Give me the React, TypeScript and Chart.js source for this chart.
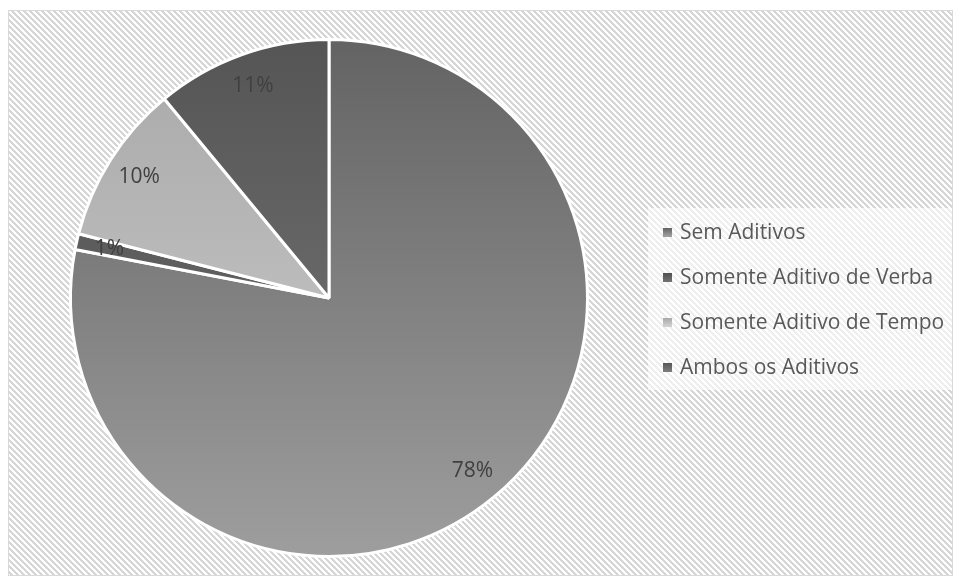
import React, { useEffect, useRef } from "react";
import { Chart, registerables } from "chart.js";

Chart.register(...registerables);

const categories = [
  "Sem Aditivos",
  "Somente Aditivo de Verba",
  "Somente Aditivo de Tempo",
  "Ambos os Aditivos",
];
const values = [78, 1, 10, 11];
const percentLabels = ["78%", "1%", "10%", "11%"];

const sliceTop = ["#636363", "#505050", "#a8a8a8", "#555555"];
const sliceBottom = ["#9e9e9e", "#707070", "#d0d0d0", "#7a7a7a"];

const W = 945;
const H = 568;

function makePattern(ctx: CanvasRenderingContext2D) {
  const p = document.createElement("canvas");
  const n = 6;
  p.width = n;
  p.height = n;
  const pc = p.getContext("2d")!;
  pc.fillStyle = "#ffffff";
  pc.fillRect(0, 0, n, n);
  pc.fillStyle = "#d6d6d6";
  for (let y = 0; y < n; y++) {
    for (let x = 0; x < n; x++) {
      if (((x - y) % n + n) % n < 3) pc.fillRect(x, y, 1, 1);
    }
  }
  return ctx.createPattern(p, "repeat")!;
}

const decorPlugin = {
  id: "decor",
  beforeDraw(chart: any) {
    const ctx: CanvasRenderingContext2D = chart.ctx;
    ctx.save();
    ctx.fillStyle = makePattern(ctx);
    ctx.fillRect(1, 3, W - 2, H - 4);
    ctx.fillStyle = "rgba(255,255,255,0.6)";
    ctx.fillRect(640, 200, 305, 182);
    ctx.strokeStyle = "#d9d9d9";
    ctx.lineWidth = 1;
    ctx.strokeRect(0.5, 2.5, W - 1, H - 3);
    ctx.restore();
  },
  afterDatasetsDraw(chart: any) {
    const ctx: CanvasRenderingContext2D = chart.ctx;
    const meta = chart.getDatasetMeta(0);
    ctx.save();
    ctx.font = "21px 'Open Sans'";
    ctx.fillStyle = "#404040";
    ctx.textAlign = "center";
    ctx.textBaseline = "middle";
    meta.data.forEach((arc: any, i: number) => {
      const mid = (arc.startAngle + arc.endAngle) / 2;
      const r = arc.outerRadius * 0.87;
      const x = arc.x + Math.cos(mid) * r;
      const y = arc.y + Math.sin(mid) * r;
      ctx.fillText(percentLabels[i], x, y);
    });
    ctx.restore();
  },
  afterDraw(chart: any) {
    const ctx: CanvasRenderingContext2D = chart.ctx;
    const labels: string[] = chart.data.labels;
    ctx.save();
    ctx.font = "21px 'Open Sans'";
    ctx.textBaseline = "middle";
    labels.forEach((lab, i) => {
      const y = 224 + i * 45;
      const g = ctx.createLinearGradient(0, y - 4, 0, y + 4);
      g.addColorStop(0, sliceTop[i]);
      g.addColorStop(1, sliceBottom[i]);
      ctx.fillStyle = g;
      ctx.fillRect(655, y - 4, 9, 9);
      ctx.fillStyle = "#595959";
      ctx.fillText(lab, 672, y + 1);
    });
    ctx.restore();
  },
};

export default function App() {
  const ref = useRef<HTMLCanvasElement>(null);
  useEffect(() => {
    if (!ref.current) return;
    const chart = new Chart(ref.current, {
      type: "pie",
      data: {
        labels: categories,
        datasets: [
          {
            data: values,
            backgroundColor: (c: any) => {
              const area = c.chart.chartArea;
              if (!area) return sliceTop[c.dataIndex];
              const g = c.chart.ctx.createLinearGradient(0, area.top, 0, area.bottom);
              g.addColorStop(0, sliceTop[c.dataIndex]);
              g.addColorStop(1, sliceBottom[c.dataIndex]);
              return g;
            },
            borderColor: "#ffffff",
            borderWidth: 3,
            hoverOffset: 0,
            offset: 0,
          },
        ],
      },
      options: {
        responsive: false,
        animation: false,
        events: [],
        layout: { padding: { left: 61, right: 364, top: 30, bottom: 18 } },
        plugins: {
          legend: { display: false },
          tooltip: { enabled: false },
        },
      },
      plugins: [decorPlugin],
    });
    return () => chart.destroy();
  }, []);
  return <canvas ref={ref} width={W} height={H} style={{ display: "block" }} />;
}
